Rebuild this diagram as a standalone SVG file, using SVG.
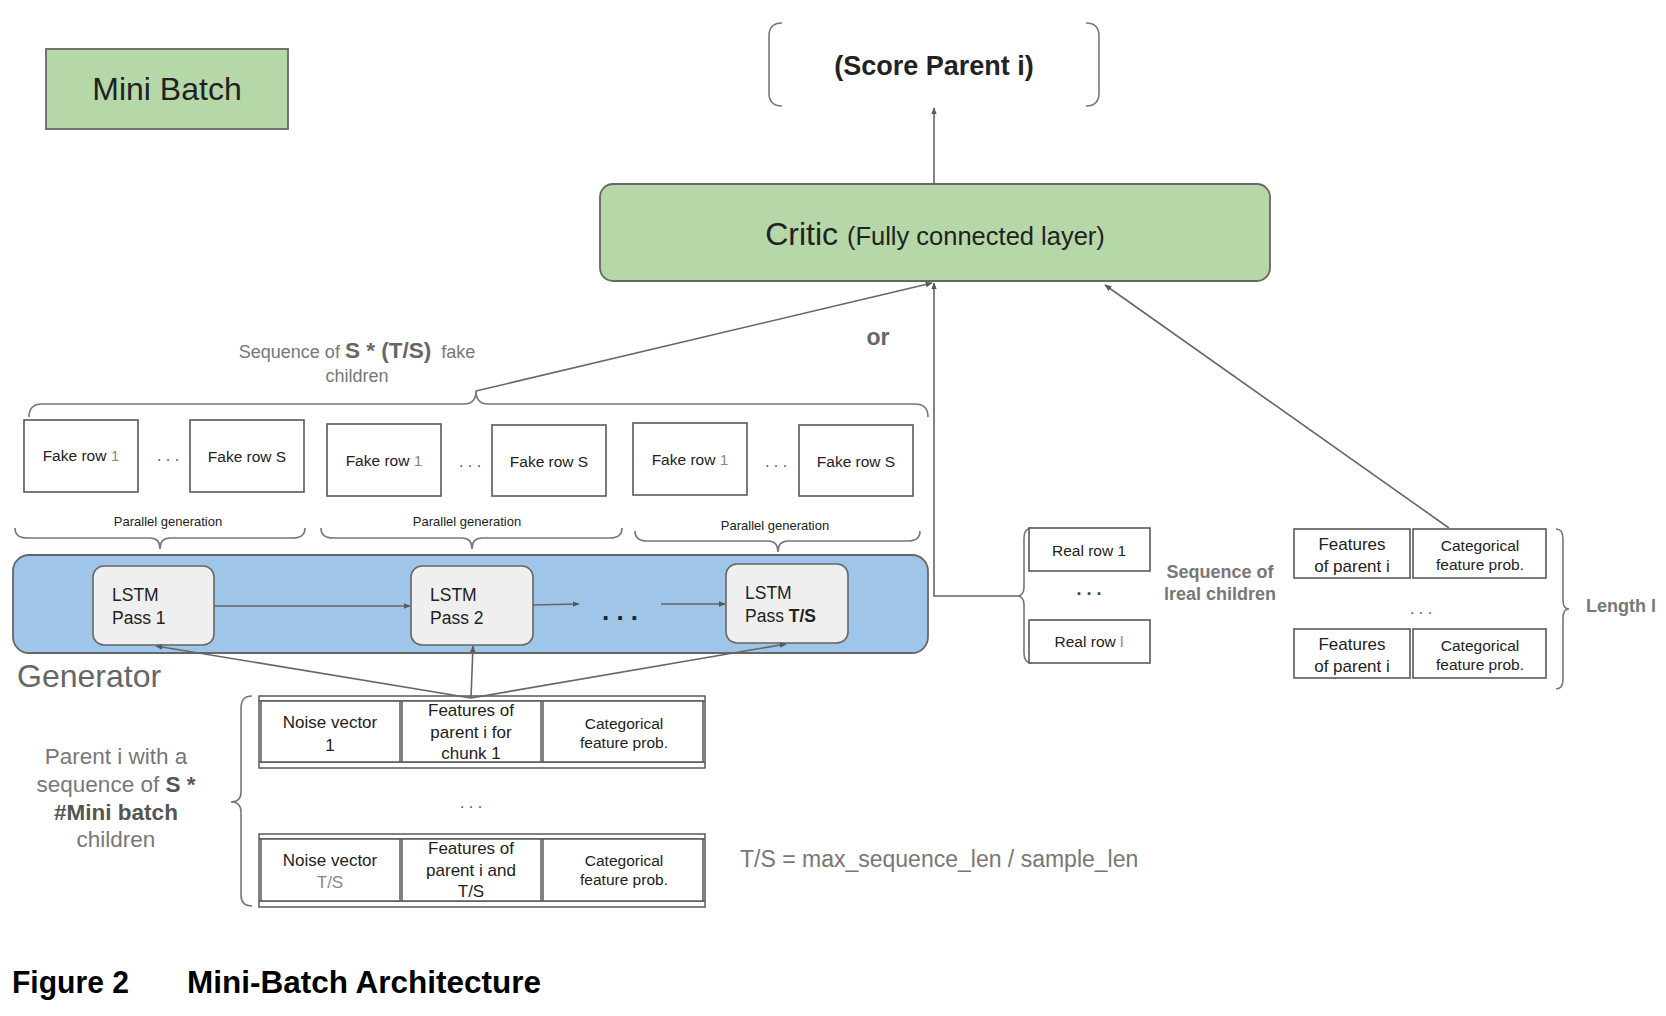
<svg xmlns="http://www.w3.org/2000/svg" width="1666" height="1016" viewBox="0 0 1666 1016">
<defs>
<marker id="ah" viewBox="0 0 10 10" refX="9" refY="5" markerWidth="7" markerHeight="7" orient="auto" markerUnits="userSpaceOnUse">
<path d="M0,1 L10,5 L0,9 z" fill="#595959"/>
</marker>
<style>
text{font-family:"Liberation Sans",Arial,sans-serif;fill:#222}
.g{fill:#666}
.b{font-weight:bold}
.box{fill:#fff;stroke:#595959;stroke-width:1.6}
.cell{fill:#fff;stroke:#595959;stroke-width:1.5}
.br{fill:none;stroke:#777;stroke-width:1.6}
.con{fill:none;stroke:#666;stroke-width:1.6}
.arr{fill:none;stroke:#666;stroke-width:1.6;marker-end:url(#ah)}
.fr{font-size:15.5px}
.pg{font-size:13px}
.c13{font-size:15.5px}
.c16{font-size:17px}
</style>
</defs>
<rect width="1666" height="1016" fill="#fff"/>

<g id="mini-batch">
<rect x="46" y="49" width="242" height="80" fill="#b6d7a8" stroke="#666" stroke-width="1.8"/>
<text x="167" y="100" font-size="32" text-anchor="middle">Mini Batch</text>
</g>

<g id="score">
<path class="br" d="M782,23 Q769,23 769,36 L769,93 Q769,106 782,106"/>
<path class="br" d="M1086,23 Q1099,23 1099,36 L1099,93 Q1099,106 1086,106"/>
<text x="934" y="75" font-size="27" class="b" text-anchor="middle">(Score Parent i)</text>
</g>

<g id="critic">
<rect x="600" y="184" width="670" height="97" rx="13" fill="#b6d7a8" stroke="#666" stroke-width="1.8"/>
<text x="935" y="245" text-anchor="middle"><tspan font-size="32">Critic </tspan><tspan font-size="25.5">(Fully connected layer)</tspan></text>
</g>

<g id="or-label"><text x="878" y="345" font-size="23" class="b" text-anchor="middle" style="fill:#666">or</text></g>

<g id="fake-label">
<text x="357" y="358" text-anchor="middle" style="fill:#777"><tspan font-size="18">Sequence of </tspan><tspan font-size="22.5" class="b" style="fill:#666">S * (T/S)</tspan><tspan font-size="18" xml:space="preserve">  fake</tspan></text>
<text x="357" y="382" font-size="18" text-anchor="middle" style="fill:#777">children</text>
</g>

<g id="fake-brace"><path class="br" d="M29,417 Q29,404 42,404 L464,404 Q476,404 476,391 Q476,404 488,404 L915,404 Q928,404 928,417"/></g>

<g id="fake-rows-1">
<rect class="box" x="24" y="420" width="114" height="72"/>
<text class="fr" x="81" y="461" text-anchor="middle">Fake row <tspan style="fill:#888">1</tspan></text>
<text x="168" y="461" font-size="16" text-anchor="middle" style="fill:#555">. . .</text>
<rect class="box" x="190" y="420" width="114" height="72"/>
<text class="fr" x="247" y="462" text-anchor="middle">Fake row S</text>
</g>
<g id="fake-rows-2">
<rect class="box" x="327" y="424" width="114" height="72"/>
<text class="fr" x="384" y="466" text-anchor="middle">Fake row <tspan style="fill:#888">1</tspan></text>
<text x="470" y="467" font-size="16" text-anchor="middle" style="fill:#555">. . .</text>
<rect class="box" x="492" y="425" width="114" height="71"/>
<text class="fr" x="549" y="467" text-anchor="middle">Fake row S</text>
</g>
<g id="fake-rows-3">
<rect class="box" x="633" y="423" width="114" height="72"/>
<text class="fr" x="690" y="465" text-anchor="middle">Fake row <tspan style="fill:#888">1</tspan></text>
<text x="776" y="467" font-size="16" text-anchor="middle" style="fill:#555">. . .</text>
<rect class="box" x="799" y="425" width="114" height="71"/>
<text class="fr" x="856" y="467" text-anchor="middle">Fake row S</text>
</g>

<g id="parallel-1">
<text class="pg" x="168" y="526" text-anchor="middle">Parallel generation</text>
<path class="br" d="M15,528 Q15,538 27,538 L150,538 Q160,538 160,549 Q160,538 170,538 L293,538 Q305,538 305,528"/>
</g>
<g id="parallel-2">
<text class="pg" x="467" y="526" text-anchor="middle">Parallel generation</text>
<path class="br" d="M321,528 Q321,538 333,538 L462,538 Q472,538 472,549 Q472,538 482,538 L610,538 Q622,538 622,528"/>
</g>
<g id="parallel-3">
<text class="pg" x="775" y="530" text-anchor="middle">Parallel generation</text>
<path class="br" d="M635,531 Q635,541 647,541 L768,541 Q778,541 778,552 Q778,541 788,541 L908,541 Q920,541 920,531"/>
</g>

<g id="generator">
<rect x="13" y="555" width="915" height="98" rx="16" fill="#9fc5e8" stroke="#666" stroke-width="1.8"/>
<text x="17" y="687" font-size="32" style="fill:#666">Generator</text>
</g>

<g id="lstm-1">
<rect x="93" y="566" width="121" height="79" rx="11" fill="#efefef" stroke="#666" stroke-width="1.6"/>
<text x="112" y="601" font-size="17.5">LSTM</text>
<text x="112" y="624" font-size="17.5">Pass 1</text>
</g>
<g id="lstm-2">
<rect x="411" y="566" width="122" height="79" rx="11" fill="#efefef" stroke="#666" stroke-width="1.6"/>
<text x="430" y="601" font-size="17.5">LSTM</text>
<text x="430" y="624" font-size="17.5">Pass 2</text>
</g>
<g id="lstm-ts">
<rect x="726" y="564" width="122" height="79" rx="11" fill="#efefef" stroke="#666" stroke-width="1.6"/>
<text x="745" y="599" font-size="17.5">LSTM</text>
<text x="745" y="622" font-size="17.5">Pass <tspan class="b">T/S</tspan></text>
</g>
<g id="lstm-dots"><text x="620" y="620" font-size="26" class="b" text-anchor="middle">. . .</text></g>

<g id="input-row-1">
<rect x="259" y="696" width="446" height="72" fill="#fff" stroke="#595959" stroke-width="1.5"/>
<line x1="259" y1="701" x2="705" y2="701" stroke="#595959" stroke-width="1.5"/>
<line x1="259" y1="762" x2="705" y2="762" stroke="#595959" stroke-width="1.5"/>
<rect class="cell" x="261" y="701" width="139" height="61"/>
<rect class="cell" x="402" y="701" width="139" height="61"/>
<rect class="cell" x="543" y="701" width="160" height="61"/>
<text class="c16" x="330" y="728" text-anchor="middle">Noise vector</text>
<text class="c16" x="330" y="751" text-anchor="middle">1</text>
<text class="c16" x="471" y="716" text-anchor="middle">Features of</text>
<text class="c16" x="471" y="738" text-anchor="middle">parent i for</text>
<text class="c16" x="471" y="759" text-anchor="middle">chunk 1</text>
<text class="c13" x="624" y="729" text-anchor="middle">Categorical</text>
<text class="c13" x="624" y="748" text-anchor="middle">feature prob.</text>
</g>
<g id="input-dots"><text x="471" y="808" font-size="16" text-anchor="middle" style="fill:#555">. . .</text></g>
<g id="input-row-2">
<rect x="259" y="834" width="446" height="73" fill="#fff" stroke="#595959" stroke-width="1.5"/>
<line x1="259" y1="839" x2="705" y2="839" stroke="#595959" stroke-width="1.5"/>
<line x1="259" y1="901" x2="705" y2="901" stroke="#595959" stroke-width="1.5"/>
<rect class="cell" x="261" y="839" width="139" height="62"/>
<rect class="cell" x="402" y="839" width="139" height="62"/>
<rect class="cell" x="543" y="839" width="160" height="62"/>
<text class="c16" x="330" y="866" text-anchor="middle">Noise vector</text>
<text class="c16" x="330" y="888" text-anchor="middle" style="fill:#888">T/S</text>
<text class="c16" x="471" y="854" text-anchor="middle">Features of</text>
<text class="c16" x="471" y="876" text-anchor="middle">parent i and</text>
<text class="c16" x="471" y="897" text-anchor="middle">T/S</text>
<text class="c13" x="624" y="866" text-anchor="middle">Categorical</text>
<text class="c13" x="624" y="885" text-anchor="middle">feature prob.</text>
</g>

<g id="parent-label">
<path class="br" d="M252,696 Q241,696 241,708 L241,792 Q241,802 231,802 Q241,802 241,812 L241,895 Q241,906 252,906"/>
<text x="116" y="764" font-size="22.5" text-anchor="middle" style="fill:#777">Parent i with a</text>
<text x="116" y="792" font-size="22.5" text-anchor="middle" style="fill:#777">sequence of <tspan class="b" style="fill:#555">S *</tspan></text>
<text x="116" y="820" font-size="22.5" text-anchor="middle" class="b" style="fill:#555">#Mini batch</text>
<text x="116" y="847" font-size="22.5" text-anchor="middle" style="fill:#777">children</text>
</g>

<g id="ts-formula"><text x="740" y="867" font-size="23" style="fill:#777">T/S = max_sequence_len / sample_len</text></g>

<g id="real-rows">
<path class="br" d="M1032,528 Q1024,528 1024,538 L1024,587 Q1024,596 1017,596 Q1024,596 1024,605 L1024,653 Q1024,663 1032,663"/>
<rect class="box" x="1029" y="528" width="121" height="43"/>
<text x="1089" y="556" font-size="15.5" text-anchor="middle">Real row 1</text>
<text x="1089" y="595" font-size="18" class="b" text-anchor="middle" style="fill:#444">. . .</text>
<rect class="box" x="1029" y="620" width="121" height="43"/>
<text x="1089" y="647" font-size="15.5" text-anchor="middle">Real row <tspan style="fill:#888">l</tspan></text>
<text x="1220" y="578" font-size="18" class="b" text-anchor="middle" style="fill:#777">Sequence of</text>
<text x="1220" y="600" font-size="18" class="b" text-anchor="middle" style="fill:#777">lreal children</text>
</g>

<g id="parent-features">
<rect class="box" x="1294" y="529" width="116" height="49"/>
<rect class="box" x="1413" y="529" width="133" height="49"/>
<text class="c16" x="1352" y="550" text-anchor="middle">Features</text>
<text class="c16" x="1352" y="572" text-anchor="middle">of parent i</text>
<text class="c13" x="1480" y="551" text-anchor="middle">Categorical</text>
<text class="c13" x="1480" y="570" text-anchor="middle">feature prob.</text>
<text x="1421" y="614" font-size="16" text-anchor="middle" style="fill:#555">. . .</text>
<rect class="box" x="1294" y="629" width="116" height="49"/>
<rect class="box" x="1413" y="629" width="133" height="49"/>
<text class="c16" x="1352" y="650" text-anchor="middle">Features</text>
<text class="c16" x="1352" y="672" text-anchor="middle">of parent i</text>
<text class="c13" x="1480" y="651" text-anchor="middle">Categorical</text>
<text class="c13" x="1480" y="670" text-anchor="middle">feature prob.</text>
<path class="br" d="M1556,529 Q1563,529 1563,539 L1563,600 Q1563,609 1569,609 Q1563,609 1563,618 L1563,679 Q1563,689 1556,689"/>
<text x="1586" y="612" font-size="18" class="b" style="fill:#777">Length l</text>
</g>

<g id="connectors">
<line class="arr" x1="934" y1="184" x2="934" y2="108"/>
<line class="arr" x1="476" y1="391" x2="932" y2="283"/>
<polyline class="arr" points="1017,596 934,596 934,283"/>
<line class="arr" x1="1449" y1="528" x2="1105" y2="285"/>
<line class="arr" x1="214" y1="606" x2="410" y2="606"/>
<line class="arr" x1="533" y1="605" x2="579" y2="604"/>
<line class="arr" x1="661" y1="604" x2="725" y2="604"/>
<line class="arr" x1="471" y1="698" x2="156" y2="646"/>
<line class="arr" x1="471" y1="698" x2="473" y2="646"/>
<line class="arr" x1="471" y1="698" x2="786" y2="644"/>
</g>

<g id="caption">
<text x="12" y="993" font-size="31" class="b" textLength="117" lengthAdjust="spacingAndGlyphs" style="fill:#000">Figure 2</text>
<text x="187" y="993" font-size="31" class="b" textLength="354" lengthAdjust="spacingAndGlyphs" style="fill:#000">Mini-Batch Architecture</text>
</g>
</svg>
